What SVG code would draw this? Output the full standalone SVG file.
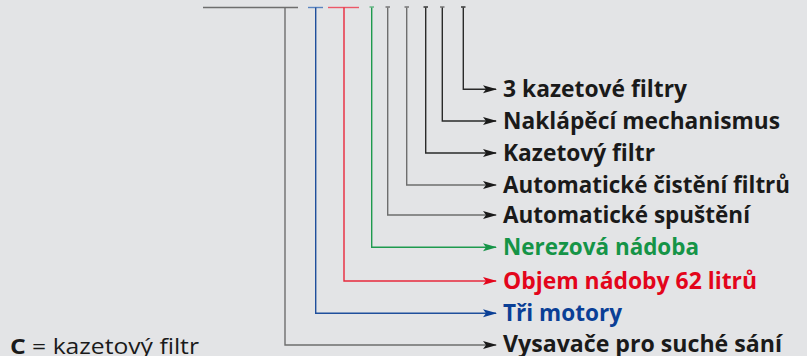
<svg xmlns="http://www.w3.org/2000/svg" width="807" height="356" viewBox="0 0 807 356">
<style>
.ln{fill:none;stroke-width:1.4}
.g{stroke:#6e6e6e}.k{stroke:#2a2a2a}.b{stroke:#1f4f9c}.r{stroke:#e8283c}.gr{stroke:#1e9a4e}
.t{font-family:"Open Sans","Liberation Sans",sans-serif;font-weight:bold;font-size:23px}
.tk{fill:#1a1a1a}.tb{fill:#0a3f96}.tr{fill:#e3051b}.tg{fill:#159447}
</style>
<defs>
<marker id="ak" markerWidth="14" markerHeight="9" refX="13" refY="4.5" orient="auto" markerUnits="userSpaceOnUse"><path d="M0,0.5 L14,4.5 L0,8.5 L3,4.5z" fill="#1a1a1a"/></marker>
<marker id="ab" markerWidth="14" markerHeight="9" refX="13" refY="4.5" orient="auto" markerUnits="userSpaceOnUse"><path d="M0,0.5 L14,4.5 L0,8.5 L3,4.5z" fill="#0a3f96"/></marker>
<marker id="ar" markerWidth="14" markerHeight="9" refX="13" refY="4.5" orient="auto" markerUnits="userSpaceOnUse"><path d="M0,0.5 L14,4.5 L0,8.5 L3,4.5z" fill="#e3051b"/></marker>
<marker id="ag" markerWidth="14" markerHeight="9" refX="13" refY="4.5" orient="auto" markerUnits="userSpaceOnUse"><path d="M0,0.5 L14,4.5 L0,8.5 L3,4.5z" fill="#159447"/></marker>
</defs>
<rect width="807" height="356" fill="#e3e4e6"/>
<g id="connectors">
<line class="ln g" x1="203" y1="7.5" x2="298" y2="7.5" stroke-width="1.6"/>
<line class="ln" x1="308" y1="7.5" x2="323" y2="7.5" stroke="#5a84c0" stroke-width="1.6"/>
<line class="ln" x1="328" y1="7.5" x2="359" y2="7.5" stroke="#ec5868" stroke-width="1.6"/>
<line class="ln" x1="369.5" y1="7" x2="374" y2="7" stroke="#5fb47f" stroke-width="1.6"/>
<line class="ln g" x1="385.5" y1="7" x2="390" y2="7" stroke-width="1.6"/>
<line class="ln g" x1="404.5" y1="7" x2="409" y2="7" stroke-width="1.6"/>
<line class="ln k" x1="423.5" y1="7" x2="428" y2="7" stroke-width="1.6"/>
<line class="ln g" x1="440" y1="7" x2="444.5" y2="7" stroke-width="1.6"/>
<line class="ln k" x1="461" y1="7" x2="465.5" y2="7" stroke-width="1.6"/>
<path class="ln k" d="M463.3,7.5 V89.3 H496" marker-end="url(#ak)"/>
<path class="ln k" d="M442.3,7.5 V121 H496" marker-end="url(#ak)"/>
<path class="ln k" d="M425.7,7.5 V153 H496" marker-end="url(#ak)"/>
<path class="ln g" d="M406.7,7.5 V185 H496" marker-end="url(#ak)"/>
<path class="ln g" d="M387.7,7.5 V215 H496" marker-end="url(#ak)"/>
<path class="ln gr" d="M371.7,7.5 V247.3 H496" marker-end="url(#ag)"/>
<path class="ln r" d="M344,7.5 V281 H496" marker-end="url(#ar)"/>
<path class="ln b" d="M315.7,7.5 V313.3 H496" marker-end="url(#ab)"/>
<path class="ln g" d="M285,7.5 V345 H496" marker-end="url(#ak)"/>
</g>
<g id="n1"><text class="t tk" x="503" y="97" textLength="184" lengthAdjust="spacingAndGlyphs">3 kazetové filtry</text></g>
<g id="n2"><text class="t tk" x="503" y="129" textLength="277" lengthAdjust="spacingAndGlyphs">Naklápěcí mechanismus</text></g>
<g id="n3"><text class="t tk" x="503" y="161" textLength="152" lengthAdjust="spacingAndGlyphs">Kazetový filtr</text></g>
<g id="n4"><text class="t tk" x="503" y="193" textLength="287" lengthAdjust="spacingAndGlyphs">Automatické čistění filtrů</text></g>
<g id="n5"><text class="t tk" x="503" y="223" textLength="247" lengthAdjust="spacingAndGlyphs">Automatické spuštění</text></g>
<g id="n6"><text class="t tg" x="503" y="255" textLength="196" lengthAdjust="spacingAndGlyphs">Nerezová nádoba</text></g>
<g id="n7"><text class="t tr" x="503" y="289" textLength="254" lengthAdjust="spacingAndGlyphs">Objem nádoby 62 litrů</text></g>
<g id="n8"><text class="t tb" x="503" y="321" textLength="119" lengthAdjust="spacingAndGlyphs">Tři motory</text></g>
<g id="n9"><text class="t tk" x="503" y="352" textLength="279" lengthAdjust="spacingAndGlyphs">Vysavače pro suché sání</text></g>
<g id="legend"><text x="10" y="354" font-family="'Open Sans','Liberation Sans',sans-serif" font-size="22" fill="#1a1a1a" textLength="189" lengthAdjust="spacingAndGlyphs"><tspan font-weight="bold">C</tspan> = kazetový filtr</text></g>
</svg>
